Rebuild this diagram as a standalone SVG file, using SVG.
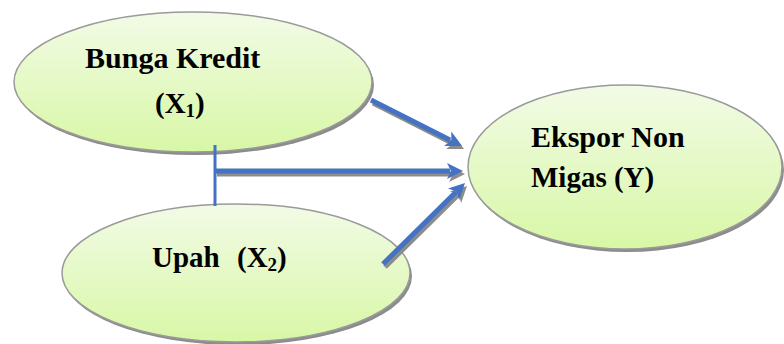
<svg xmlns="http://www.w3.org/2000/svg" width="784" height="344" viewBox="0 0 784 344">
  <defs>
    <linearGradient id="fillGreen" x1="0" y1="0" x2="0" y2="1">
      <stop offset="0" stop-color="#f2fbe6"/>
      <stop offset="1" stop-color="#d8f7a6"/>
    </linearGradient>
    <style>
      .oval { fill: url(#fillGreen); stroke: #9a9a9a; stroke-width: 1.5; }
      .oval-shadow { fill: #8c8c8c; }
      .conn { stroke: #4472c4; stroke-width: 5; fill: none; }
      .conn-shadow { stroke: #8c8c8c; stroke-width: 5; fill: none; }
      .head { fill: #4472c4; }
      .head-shadow { fill: #8c8c8c; }
      .bar { stroke: #4472c4; stroke-width: 3; fill: none; }
    </style>
  </defs>

  <g id="node-x1">
    <ellipse class="oval-shadow" cx="195" cy="85" rx="179" ry="70"/>
    <ellipse class="oval" cx="193" cy="82" rx="179" ry="70"/>
    <text x="85" y="68" font-family="'Liberation Serif', 'Times New Roman', serif" font-weight="bold" font-size="30">Bunga Kredit</text>
    <text x="155" y="113" font-family="'Liberation Serif', 'Times New Roman', serif" font-weight="bold" font-size="29">(X<tspan font-size="19" dy="4">1</tspan><tspan dy="-4">)</tspan></text>
  </g>

  <g id="node-x2">
    <ellipse class="oval-shadow" cx="238" cy="276" rx="174" ry="69"/>
    <ellipse class="oval" cx="236" cy="273" rx="174" ry="69"/>
    <text x="152" y="267" font-family="'Liberation Serif', 'Times New Roman', serif" font-weight="bold" font-size="29">Upah</text>
    <text x="237" y="267" font-family="'Liberation Serif', 'Times New Roman', serif" font-weight="bold" font-size="29">(X<tspan font-size="19" dy="4">2</tspan><tspan dy="-4">)</tspan></text>
  </g>

  <g id="node-y">
    <ellipse class="oval-shadow" cx="627" cy="170" rx="157" ry="82"/>
    <ellipse class="oval" cx="625" cy="167" rx="157" ry="82"/>
    <text x="531" y="147" font-family="'Liberation Serif', 'Times New Roman', serif" font-weight="bold" font-size="30">Ekspor Non</text>
    <text x="531" y="187" font-family="'Liberation Serif', 'Times New Roman', serif" font-weight="bold" font-size="29">Migas (Y)</text>
  </g>

  <g id="connectors">
    <line class="bar" x1="215" y1="145" x2="215" y2="206"/>
    <!-- drop shadows under the arrows -->
    <g transform="translate(2,3)">
      <line class="conn-shadow" x1="371" y1="100" x2="450" y2="140"/>
      <polygon class="head-shadow" points="462,146 444.1,145.9 451.3,140.6 451.3,131.6"/>
      <line class="conn-shadow" x1="215" y1="171" x2="450" y2="171"/>
      <polygon class="head-shadow" points="463,171 447,179 451,171 447,163"/>
      <line class="conn-shadow" x1="383" y1="264" x2="456" y2="192"/>
      <polygon class="head-shadow" points="465,183 459.2,199.9 456.5,191.4 448,188.5"/>
    </g>
    <!-- arrows -->
    <line class="conn" x1="371" y1="100" x2="450" y2="140"/>
    <polygon class="head" points="462,146 444.1,145.9 451.3,140.6 451.3,131.6"/>
    <line class="conn" x1="215" y1="171" x2="450" y2="171"/>
    <polygon class="head" points="463,171 447,179 451,171 447,163"/>
    <line class="conn" x1="383" y1="264" x2="456" y2="192"/>
    <polygon class="head" points="465,183 459.2,199.9 456.5,191.4 448,188.5"/>
  </g>
</svg>
